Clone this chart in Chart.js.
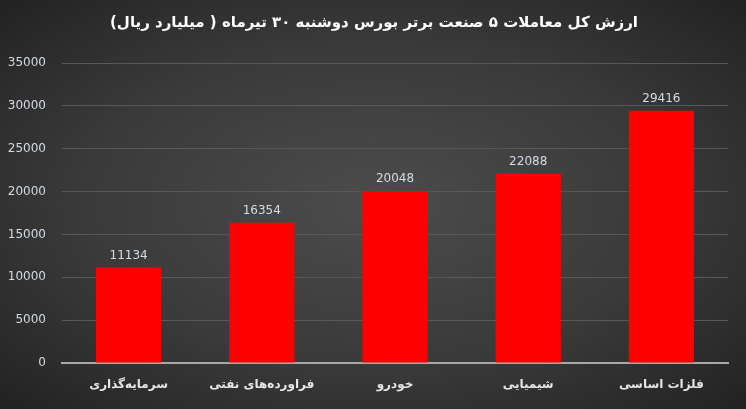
<!DOCTYPE html>
<html>
<head>
<meta charset="utf-8">
<script src="https://cdn.jsdelivr.net/npm/chart.js@4"></script>
<style>
  html, body { margin: 0; padding: 0; }
  #wrap {
    width: 746px; height: 409px;
    background: radial-gradient(ellipse at 50% 50%, #4c4c4c 0%, #3a3a3a 55%, #222 100%);
  }
</style>
</head>
<body>
<div id="wrap"><canvas id="c" width="746" height="409"></canvas></div>
<script>
const categories = ['سرمایه‌گذاری', 'فراورده‌های نفتی', 'خودرو', 'شیمیایی', 'فلزات اساسی'];
const values = [11134, 16354, 20048, 22088, 29416];
const yTicks = [0, 5000, 10000, 15000, 20000, 25000, 30000, 35000];
const titleText = 'ارزش کل معاملات ۵ صنعت برتر بورس دوشنبه ۳۰ تیرماه ( میلیارد ریال)';

// title and value labels drawn by hand so they sit where the reference has them
const extras = {
  id: 'extras',
  afterDatasetsDraw(chart) {
    const ctx = chart.ctx;
    const meta = chart.getDatasetMeta(0);
    ctx.save();
    ctx.font = '12px "DejaVu Sans"';
    ctx.fillStyle = '#d4dbe4';
    ctx.textAlign = 'center';
    ctx.textBaseline = 'bottom';
    meta.data.forEach((bar, i) => {
      ctx.fillText(values[i], bar.x, bar.y - 6);
    });
    ctx.font = 'bold 15px "DejaVu Sans"';
    ctx.fillStyle = '#ffffff';
    ctx.textBaseline = 'middle';
    ctx.fillText(titleText, 374, 23);
    ctx.restore();
  }
};

new Chart(document.getElementById('c'), {
  type: 'bar',
  data: {
    labels: categories,
    datasets: [{
      data: values,
      backgroundColor: '#ff0000',
      barPercentage: 0.98,
      categoryPercentage: 0.5
    }]
  },
  options: {
    responsive: false,
    animation: false,
    layout: { padding: { left: 0, right: 18, top: 63, bottom: 4 } },
    plugins: {
      legend: { display: false },
      tooltip: { enabled: false }
    },
    scales: {
      x: {
        afterFit(scale) { scale.height = 42; },
        grid: { display: false },
        border: { display: true, color: '#a8a8a8', width: 2 },
        ticks: {
          color: '#e6e6e6',
          font: { family: 'DejaVu Sans', size: 12, weight: 'bold' },
          padding: 7,
          maxRotation: 0
        }
      },
      y: {
        min: 0, max: 35000,
        afterFit(scale) { scale.width = 62; },
        afterBuildTicks(scale) { scale.ticks = yTicks.map(v => ({ value: v })); },
        grid: { color: '#585858', drawTicks: false },
        border: { display: false },
        ticks: {
          color: '#d4dbe4',
          font: { family: 'DejaVu Sans', size: 12 },
          padding: 16,
          callback: v => String(v)
        }
      }
    }
  },
  plugins: [extras]
});
</script>
</body>
</html>
